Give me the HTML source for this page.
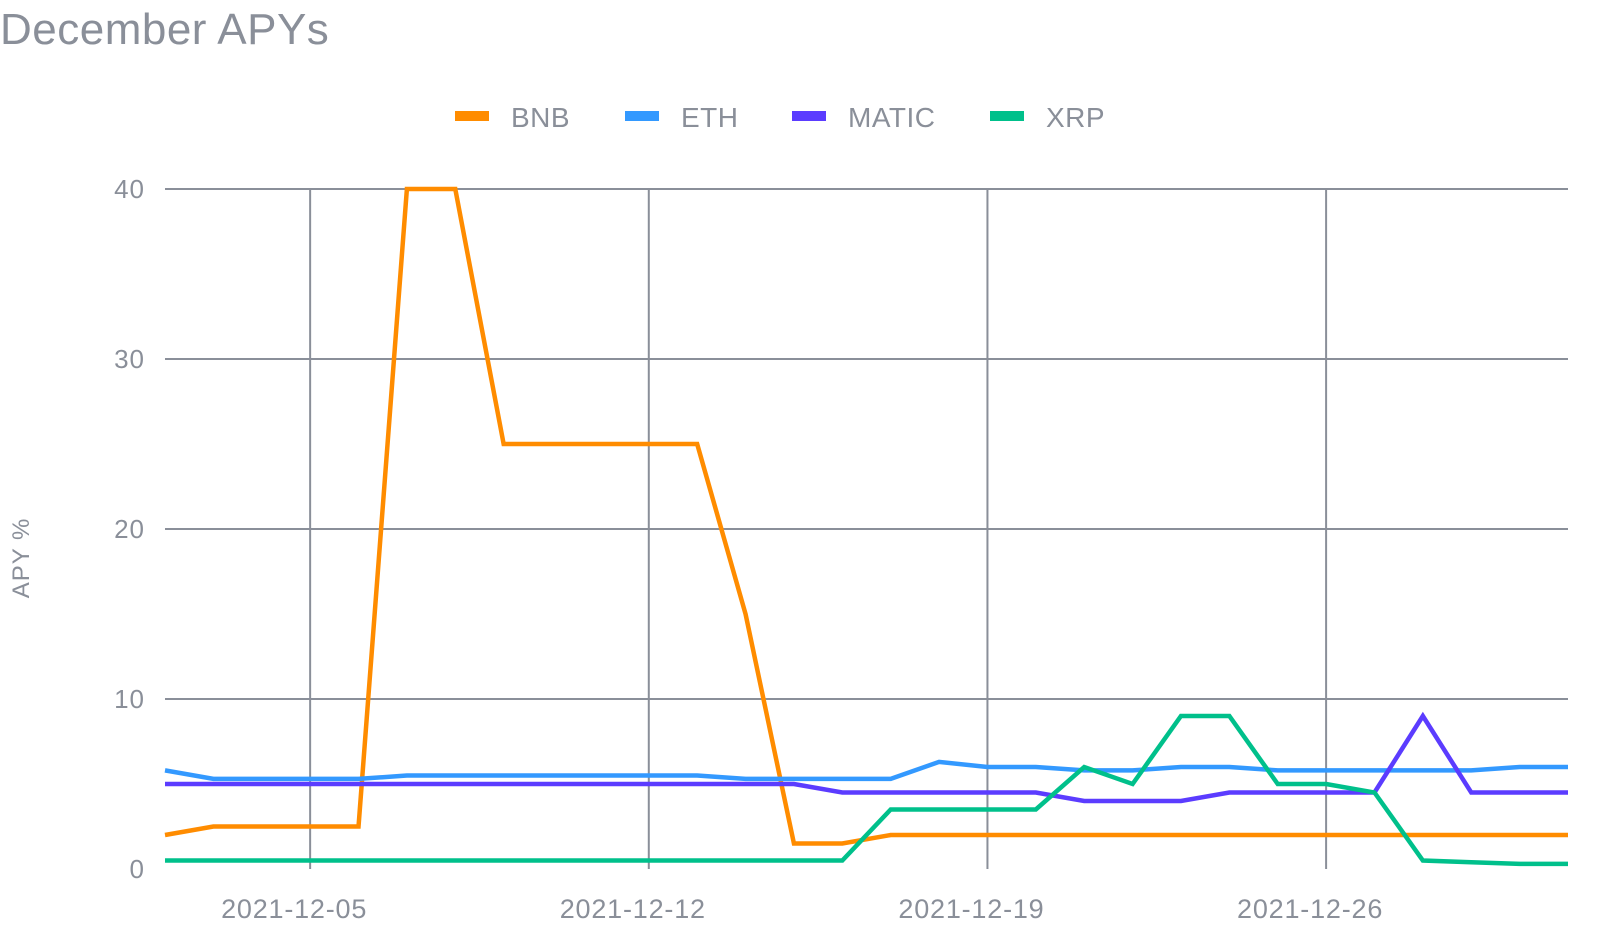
<!DOCTYPE html>
<html><head><meta charset="utf-8"><style>
body{margin:0;background:#fff;width:1600px;height:945px;overflow:hidden;font-family:"Liberation Sans",sans-serif}
text{font-family:"Liberation Sans",sans-serif;fill:#8a8f99}
</style></head><body>
<svg id="chart" width="1600" height="945">
<text x="0" y="44" font-size="44" letter-spacing="0.5">December APYs</text>
<text transform="translate(29,558) rotate(-90)" text-anchor="middle" font-size="24" letter-spacing="1">APY %</text>
<g id="grid"></g><g id="lines"></g><g id="legend"></g>
</svg>
<script>
const days=[2,3,4,5,6,7,8,9,10,11,12,13,14,15,16,17,18,19,20,21,22,23,24,25,26,27,28,29,30,31];
const bnb=[2,2.5,2.5,2.5,2.5,40,40,25,25,25,25,25,15,1.5,1.5,2,2,2,2,2,2,2,2,2,2,2,2,2,2,2];
const eth=[5.8,5.3,5.3,5.3,5.3,5.5,5.5,5.5,5.5,5.5,5.5,5.5,5.3,5.3,5.3,5.3,6.3,6,6,5.8,5.8,6,6,5.8,5.8,5.8,5.8,5.8,6,6];
const matic=[5,5,5,5,5,5,5,5,5,5,5,5,5,5,4.5,4.5,4.5,4.5,4.5,4,4,4,4.5,4.5,4.5,4.5,9,4.5,4.5,4.5];
const xrp=[0.5,0.5,0.5,0.5,0.5,0.5,0.5,0.5,0.5,0.5,0.5,0.5,0.5,0.5,0.5,3.5,3.5,3.5,3.5,6,5,9,9,5,5,4.5,0.5,0.4,0.3,0.3];
const yTicks=[0,10,20,30,40];
const xTickDays=[5,12,19,26];
const xTickLabels=["2021-12-05","2021-12-12","2021-12-19","2021-12-26"];
const seriesNames=["BNB","ETH","MATIC","XRP"];
const seriesColors=["#ff8c00","#3399ff","#5b3cff","#00c08b"];
const NS="http://www.w3.org/2000/svg";
const X0=165,X1=1568,Y0=869,Y40=189;
const x=d=>X0+(d-2)*(X1-X0)/29;
const y=v=>Y0+(v)*(Y40-Y0)/40;
function mk(t,a,p){const e=document.createElementNS(NS,t);for(const k in a)e.setAttribute(k,a[k]);p.appendChild(e);return e;}
const grid=document.getElementById('grid');
yTicks.forEach(v=>{
 if(v>0){const l=mk('line',{x1:X0,x2:X1,y1:y(v),y2:y(v),stroke:'#8a8f99','stroke-width':2},grid);
 
 }
 const t=mk('text',{x:145,y:y(v)+9,'text-anchor':'end','font-size':26,'letter-spacing':1},grid);t.textContent=v;
 
 
});
xTickDays.forEach((d,i)=>{
 const l=mk('line',{x1:x(d),x2:x(d),y1:Y40,y2:Y0,stroke:'#8a8f99','stroke-width':2},grid);
 
 
 const t=mk('text',{x:x(d)-16,y:918,'text-anchor':'middle','font-size':27,'letter-spacing':0.8},grid);t.textContent=xTickLabels[i];
 
 
});
const lines=document.getElementById('lines');
[bnb,eth,matic,xrp].forEach((s,i)=>{
 const p=mk('polyline',{points:s.map((v,j)=>x(days[j])+','+y(v)).join(' '),fill:'none',stroke:seriesColors[i],'stroke-width':4.5,'stroke-linejoin':'miter'},lines);
 
 
});
const lg=document.getElementById('legend');
const lx=[455,625,792,990];
seriesNames.forEach((n,i)=>{
 const r=mk('rect',{x:lx[i],y:111,width:34,height:10,fill:seriesColors[i]},lg);
 
 
 const t=mk('text',{x:lx[i]+56,y:127,'font-size':28,'letter-spacing':0.5},lg);t.textContent=n;
 
 
});
</script>
</body></html>
